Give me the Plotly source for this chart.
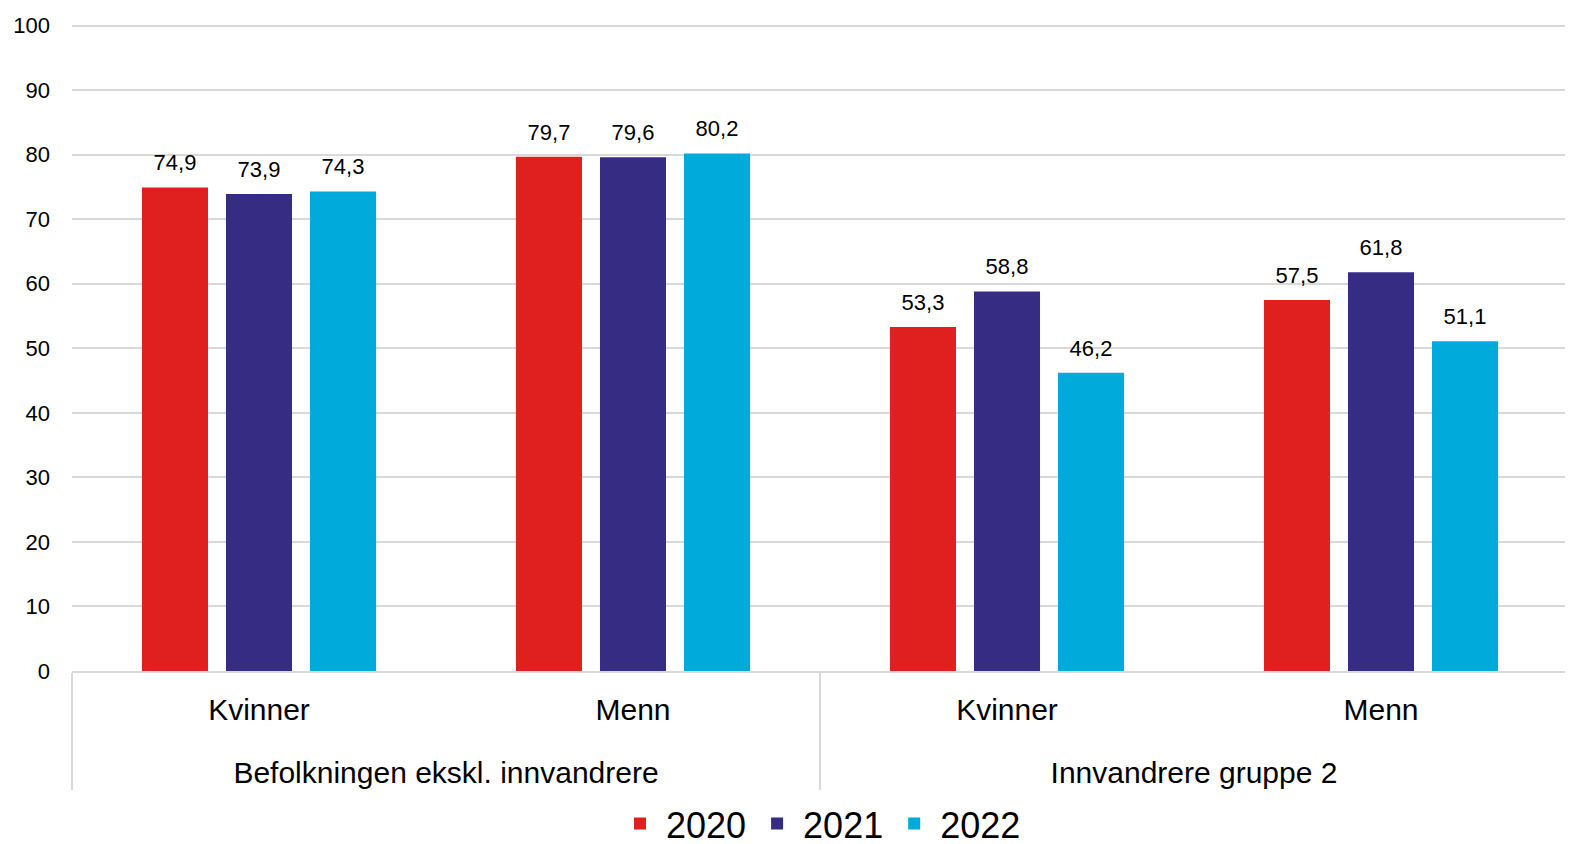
import plotly.graph_objects as go

groups = ["Befolkningen ekskl. innvandrere", "Befolkningen ekskl. innvandrere",
          "Innvandrere gruppe 2", "Innvandrere gruppe 2"]
sexes = ["Kvinner", "Menn", "Kvinner", "Menn"]
years = ["2020", "2021", "2022"]
v2020 = [74.9, 79.7, 53.3, 57.5]
v2021 = [73.9, 79.6, 58.8, 61.8]
v2022 = [74.3, 80.2, 46.2, 51.1]
colors = ["#E01F1F", "#372C84", "#00AADB"]

FONT = "Liberation Sans, Arial, sans-serif"

# second level label pushed down one line to mimic the reference spacing
group_labels = ["<br>" + g for g in groups]

fig = go.Figure()
for name, vals, col in zip(years, [v2020, v2021, v2022], colors):
    fig.add_trace(go.Bar(
        x=[group_labels, sexes], y=vals, name=name,
        marker=dict(color=col, line=dict(width=0)),
        offsetgroup=name, alignmentgroup="a",
        hoverinfo="y",
    ))
for name, vals in zip(years, [v2020, v2021, v2022]):
    fig.add_trace(go.Scatter(
        x=[group_labels, sexes], y=vals, name=name,
        mode="markers+text",
        marker=dict(size=17, color="rgba(0,0,0,0)"),
        text=[f"{v:.1f}".replace(".", ",") for v in vals],
        textposition="top center",
        textfont=dict(family=FONT, size=22, color="#000000"),
        offsetgroup=name, alignmentgroup="a",
        showlegend=False, hoverinfo="skip", cliponaxis=False,
    ))

fig.update_layout(
    width=1565, height=836,
    paper_bgcolor="white", plot_bgcolor="white",
    separators=", ",
    barmode="group", bargap=0.326, bargroupgap=0.214,
    scattermode="group", scattergap=0.326,
    margin=dict(l=64, r=5, t=16, b=173, autoexpand=False),
    font=dict(family=FONT, color="#000000"),
    legend=dict(orientation="h", x=0.5, xanchor="center", y=-0.236, yanchor="middle",
                font=dict(size=36, family=FONT), traceorder="normal",
                itemwidth=42, tracegroupgap=0),
    showlegend=True,
)
fig.update_yaxes(range=[0, 100.25], tickvals=[0, 10, 20, 30, 40, 50, 60, 70, 80, 90, 100],
                 showgrid=True, gridcolor="#D9D9D9",
                 gridwidth=2, zeroline=False, showline=False, automargin=False,
                 tickfont=dict(size=22, family=FONT, color="#000000"),
                 ticks="", ticklabelstandoff=21)
fig.update_xaxes(showline=True, linecolor="#D9D9D9", linewidth=2, automargin=False,
                 showdividers=True, dividercolor="#D9D9D9", dividerwidth=2,
                 tickfont=dict(size=30, family=FONT, color="#000000"),
                 ticks="", ticklabelstandoff=11)

fig.write_html("out.html")
